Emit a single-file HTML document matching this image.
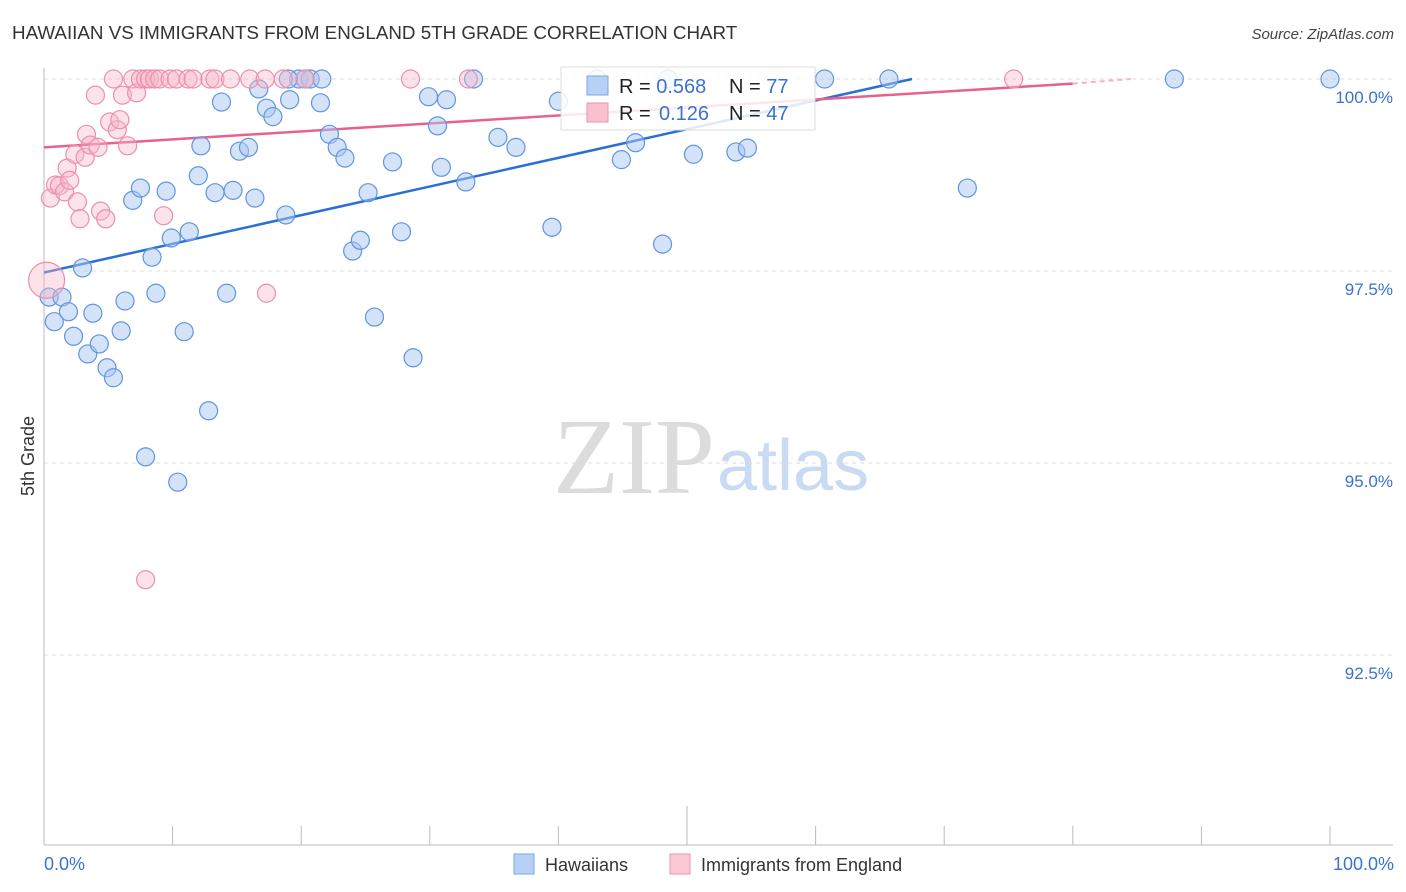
<!DOCTYPE html>
<html><head><meta charset="utf-8"><style>
body{margin:0;background:#fff;font-family:"Liberation Sans",sans-serif}
</style></head><body>
<svg id="chart" width="1406" height="892" xmlns="http://www.w3.org/2000/svg" style="display:block">
<text x="12" y="39" font-size="18.8" fill="#333" font-family="Liberation Sans, sans-serif">HAWAIIAN VS IMMIGRANTS FROM ENGLAND 5TH GRADE CORRELATION CHART</text>
<text x="1394" y="39" font-size="15" fill="#444" text-anchor="end" font-style="italic" font-family="Liberation Sans, sans-serif">Source: ZipAtlas.com</text>
<text x="553" y="493" font-size="108" fill="#dcdcdc" font-family="Liberation Serif, serif">ZIP</text>
<text x="717" y="490" font-size="72" fill="#c9daf3" font-family="Liberation Sans, sans-serif">atlas</text>
<g id="grid"></g>
<g id="axes"></g>
<g id="trend"></g>
<g id="points"></g>
<text transform="translate(34,456) rotate(-90)" font-size="18" fill="#333" text-anchor="middle" font-family="Liberation Sans, sans-serif">5th Grade</text>
<g>
<rect x="561" y="67" width="254" height="63" fill="#fff" fill-opacity="0.85" stroke="#ddd"/>
<rect x="587" y="76" width="21" height="19" fill="#b7d1f5" stroke="#7aa6e6"/>
<rect x="587" y="103" width="21" height="19" fill="#f9c1d0" stroke="#ee92ad"/>
<text x="619" y="93" font-size="20" fill="#222">R = <tspan fill="#3a72d4">0.568</tspan><tspan x="729">N = </tspan><tspan fill="#3a72d4">77</tspan></text>
<text x="619" y="120" font-size="20" fill="#222">R = <tspan fill="#3a72d4" x="659">0.126</tspan><tspan x="729">N = </tspan><tspan fill="#3a72d4">47</tspan></text>
</g>
<g>
<rect x="514" y="854" width="20" height="20" fill="#b7d1f5" stroke="#7aa6e6"/>
<text x="545" y="871" font-size="18" fill="#333">Hawaiians</text>
<rect x="670" y="854" width="20" height="20" fill="#fbc9d6" stroke="#ee92ad"/>
<text x="701" y="871" font-size="18" fill="#333">Immigrants from England</text>
</g>
</svg>
<script>
const blueX=[0.4,1.4,0.8,1.9,2.3,3.8,3.4,4.3,4.9,5.4,6.0,6.3,3.0,6.9,7.5,8.4,8.7,7.9,9.5,9.9,10.4,10.9,11.3,12.0,12.2,12.8,13.3,13.8,14.2,14.7,15.2,15.9,16.4,16.7,17.3,17.8,18.8,19.1,19.8,20.7,21.6,21.5,22.2,22.8,23.4,24.0,24.6,25.2,25.7,27.1,27.8,28.7,29.9,30.6,30.9,31.3,32.8,33.4,35.3,36.7,39.5,40.0,44.9,46.0,48.1,50.5,53.8,54.7,60.7,65.7,71.8,87.9,100,20.3,43.0,48.5,19.0];
const blueY=[97.16,97.16,96.84,96.97,96.65,96.95,96.42,96.55,96.24,96.11,96.72,97.11,97.54,98.42,98.58,97.68,97.21,95.08,98.54,97.93,94.75,96.71,98.01,98.74,99.13,95.68,98.52,99.70,97.21,98.55,99.06,99.11,98.45,99.87,99.62,99.51,98.23,99.73,100,100,100,99.69,99.28,99.11,98.97,97.76,97.90,98.52,96.90,98.92,98.01,96.37,99.77,99.39,98.85,99.73,98.66,100,99.24,99.11,98.07,99.71,98.95,99.17,97.85,99.02,99.05,99.10,100,100,98.58,100,100,100,100,100,100];
const pinkX=[0.2,0.5,0.9,1.2,1.6,1.8,2.0,2.4,2.6,2.8,3.2,3.3,3.6,4.0,4.2,4.4,4.8,5.1,5.4,5.7,5.9,6.1,6.5,6.9,7.2,7.5,7.9,8.2,8.6,9.0,9.3,9.8,10.3,11.2,11.6,12.9,13.3,14.5,16.0,17.2,18.6,20.3,28.5,33.0,75.4,17.3,7.9];
const pinkY=[97.38,98.45,98.62,98.61,98.53,98.84,98.68,99.02,98.40,98.18,98.98,99.28,99.14,99.79,99.11,98.28,98.18,99.44,100,99.34,99.47,99.79,99.13,100,99.82,100,100,100,100,100,98.22,100,100,100,100,100,100,100,100,100,100,100,100,100,100,97.21,93.48];
const pinkSize=[2.0,1,1,1,1,1,1,1,1,1,1,1,1,1,1,1,1,1,1,1,1,1,1,1,1,1,1,1,1,1,1,1,1,1,1,1,1,1,1,1,1,1,1,1,1,1,1];
const blueTrend=[97.48,100.0]; const blueTrendX=[0,67.5];
const pinkTrend=[99.11,99.94]; const pinkTrendX=[0,80.0];
const pinkTrendExt=[99.94,100.0]; const pinkTrendExtX=[80.0,84.5];
const yTicks=[100,97.5,95,92.5];
const yTickLabels=["100.0%","97.5%","95.0%","92.5%"];
const xTicks=[0,10,20,30,40,50,60,70,80,90,100];

const NS="http://www.w3.org/2000/svg";
const X0=44,X1=1330,Y100=79,PXPER=76.8;
function sx(v){return X0+(v/100)*(X1-X0);}
function sy(v){return Y100+(100-v)*PXPER;}
function mk(tag,attrs,parent){const e=document.createElementNS(NS,tag);for(const k in attrs)e.setAttribute(k,attrs[k]);parent.appendChild(e);return e;}
const grid=document.getElementById('grid'),axes=document.getElementById('axes'),trend=document.getElementById('trend'),pts=document.getElementById('points');
yTicks.forEach((t,i)=>{
 const l=mk('line',{x1:44,x2:1393,y1:sy(t),y2:sy(t),stroke:'#dcdcdc','stroke-dasharray':'4,4'},grid);
 
 
 const tx=mk('text',{x:1393,y:sy(t)+24,'font-size':17,fill:'#3a72d4','text-anchor':'end'},grid);
 tx.textContent=yTickLabels[i];
 
 
});
const ya=mk('line',{x1:44,x2:44,y1:68,y2:845,stroke:'#bbb'},axes);


const xa=mk('line',{x1:44,x2:1393,y1:845,y2:845,stroke:'#bbb'},axes);


xTicks.forEach(t=>{
 const l=mk('line',{x1:sx(t),x2:sx(t),y1:t===50?806:826,y2:845,stroke:'#bbb'},axes);
 
 
});
const xl0=mk('text',{x:44,y:870,'font-size':18,fill:'#3a72d4'},axes);xl0.textContent='0.0%';


const xl1=mk('text',{x:1394,y:870,'font-size':18,fill:'#3a72d4','text-anchor':'end'},axes);xl1.textContent='100.0%';



blueX.forEach((x,i)=>{
 const c=mk('circle',{cx:sx(x),cy:sy(blueY[i]),r:9,fill:'#a9c8f2','fill-opacity':0.5,stroke:'#5f95e0','stroke-width':1.2},pts);
 
 
});
pinkX.forEach((x,i)=>{
 const c=mk('circle',{cx:sx(x),cy:sy(pinkY[i]),r:9*pinkSize[i],fill:'#f7b6c8','fill-opacity':0.4,stroke:'#ec8fab','stroke-width':1.2},pts);
 
 
});
const bt=mk('line',{x1:sx(blueTrendX[0]),y1:sy(blueTrend[0]),x2:sx(blueTrendX[1]),y2:sy(blueTrend[1]),stroke:'#2a6fd6','stroke-width':2.5},trend);


const pt=mk('line',{x1:sx(pinkTrendX[0]),y1:sy(pinkTrend[0]),x2:sx(pinkTrendX[1]),y2:sy(pinkTrend[1]),stroke:'#e8608c','stroke-width':2.5},trend);


const pe=mk('line',{x1:sx(pinkTrendExtX[0]),y1:sy(pinkTrendExt[0]),x2:sx(pinkTrendExtX[1]),y2:sy(pinkTrendExt[1]),stroke:'#f3b3c6','stroke-width':2,'stroke-dasharray':'5,4'},trend);


</script>
</body></html>
